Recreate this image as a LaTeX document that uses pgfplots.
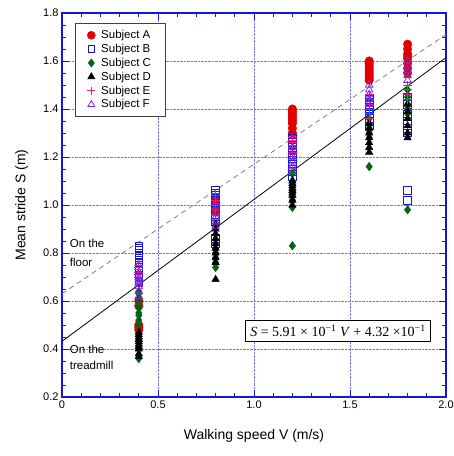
\documentclass[border=0pt]{standalone}
\usepackage{fontspec}
\setmainfont{Liberation Sans}
\newfontfamily\timesfont{Liberation Serif}
\usepackage{pgfplots}
\pgfplotsset{compat=1.18}
\definecolor{cA}{RGB}{225,0,0}
\definecolor{cB}{RGB}{20,20,220}
\definecolor{cC}{RGB}{0,100,20}
\definecolor{cE}{RGB}{250,20,140}
\definecolor{cF}{RGB}{130,40,220}
\begin{document}
\begin{tikzpicture}
\path[use as bounding box] (-62pt,-59pt) rectangle (392pt,397pt);
\begin{axis}[
  scale only axis, width=384pt, height=384pt,
  xmin=0, xmax=2, ymin=0.2, ymax=1.8,
  xtick={0,0.5,1,1.5,2}, xticklabels={0,0.5,1.0,1.5,2.0},
  ytick={0.2,0.4,...,1.8},
  yticklabel style={/pgf/number format/.cd, fixed, fixed zerofill, precision=1},
  /pgf/number format/assume math mode=true,
  minor x tick num=4, minor y tick num=3,
  tick align=inside, major tick length=7pt, minor tick length=4pt,
  every tick/.style={cB, line width=0.8pt},
  axis line style={cB, line width=1.2pt},
  grid=major, major grid style={blue!55, densely dotted, line width=0.9pt},
  tick label style={font=\fontsize{11}{13}\selectfont, black},
  xlabel={Walking speed V (m/s)}, ylabel={Mean stride S (m)},
  label style={font=\fontsize{14}{16}\selectfont},
  xlabel style={yshift=-14pt}, ylabel style={yshift=8pt},
  legend style={at={(0.034,0.974)}, anchor=north west, draw=black!75, line width=0.8pt,
    font=\fontsize{11.5}{13}\selectfont, inner xsep=12pt, inner ysep=5pt, row sep=0pt,
    /tikz/every odd column/.append style={column sep=4pt}},
  legend image post style={scale=0.9},
  legend cell align=left,
]
\addplot[only marks, mark=*, mark size=4.3pt, draw=cA, fill=cA] coordinates {
(0.4,0.48) (0.4,0.49) (0.4,0.50) (0.4,0.58) (0.4,0.60)
(0.8,0.97) (0.8,0.99) (0.8,1.01) (0.8,1.03)
(1.2,1.30) (1.2,1.32) (1.2,1.34) (1.2,1.35) (1.2,1.36) (1.2,1.37) (1.2,1.38) (1.2,1.39) (1.2,1.40)
(1.6,1.52) (1.6,1.53) (1.6,1.54) (1.6,1.55) (1.6,1.56) (1.6,1.57) (1.6,1.58) (1.6,1.59) (1.6,1.60)
(1.8,1.55) (1.8,1.57) (1.8,1.59) (1.8,1.61) (1.8,1.62) (1.8,1.63) (1.8,1.65) (1.8,1.67)
};
\addlegendentry{Subject A}
\addplot[only marks, mark=square, mark size=3.8pt, draw=cB, line width=0.8pt] coordinates {
(0.4,0.83) (0.4,0.82) (0.4,0.81) (0.4,0.80) (0.4,0.79) (0.4,0.78) (0.4,0.76) (0.4,0.74) (0.4,0.70) (0.4,0.68)
(0.8,1.06) (0.8,1.05) (0.8,1.04) (0.8,1.02) (0.8,0.98) (0.8,0.95) (0.8,0.93) (0.8,0.86) (0.8,0.84)
(1.2,1.12) (1.2,1.14) (1.2,1.16) (1.2,1.18) (1.2,1.20) (1.2,1.22) (1.2,1.24) (1.2,1.26) (1.2,1.28)
(1.6,1.33) (1.6,1.36) (1.6,1.38) (1.6,1.40) (1.6,1.42) (1.6,1.43) (1.6,1.44)
(1.8,1.02) (1.8,1.06) (1.8,1.30) (1.8,1.32) (1.8,1.35) (1.8,1.38) (1.8,1.42) (1.8,1.45)
};
\addlegendentry{Subject B}
\addplot[only marks, mark=diamond*, mark size=4.3pt, draw=cC, fill=cC] coordinates {
(0.4,0.36) (0.4,0.50) (0.4,0.52) (0.4,0.54) (0.4,0.55) (0.4,0.57) (0.4,0.59) (0.4,0.61) (0.4,0.63) (0.4,0.64)
(0.8,0.74) (0.8,0.76) (0.8,0.78) (0.8,0.80) (0.8,0.82)
(1.2,0.83) (1.2,0.99) (1.2,1.02) (1.2,1.06) (1.2,1.10) (1.2,1.13)
(1.6,1.16) (1.6,1.28) (1.6,1.30) (1.6,1.32) (1.6,1.34) (1.6,1.36)
(1.8,0.98) (1.8,1.38) (1.8,1.40) (1.8,1.42) (1.8,1.45) (1.8,1.48)
};
\addlegendentry{Subject C}
\addplot[only marks, mark=triangle*, mark size=4.3pt, draw=black, fill=black] coordinates {
(0.4,0.37) (0.4,0.38) (0.4,0.40) (0.4,0.41) (0.4,0.42) (0.4,0.43) (0.4,0.44) (0.4,0.45) (0.4,0.46) (0.4,0.47)
(0.8,0.69) (0.8,0.76) (0.8,0.78) (0.8,0.80) (0.8,0.82) (0.8,0.84) (0.8,0.86) (0.8,0.88) (0.8,0.90) (0.8,0.92)
(1.2,1.00) (1.2,1.02) (1.2,1.04) (1.2,1.05) (1.2,1.06) (1.2,1.07) (1.2,1.08) (1.2,1.09) (1.2,1.10)
(1.6,1.22) (1.6,1.24) (1.6,1.26) (1.6,1.28) (1.6,1.30) (1.6,1.32) (1.6,1.34)
(1.8,1.28) (1.8,1.30) (1.8,1.33) (1.8,1.36) (1.8,1.39) (1.8,1.42)
};
\addlegendentry{Subject D}
\addplot[only marks, mark=+, mark size=4.3pt, draw=cE, line width=1pt] coordinates {
(0.4,0.70) (0.4,0.71) (0.4,0.72) (0.4,0.73) (0.4,0.74) (0.4,0.75)
(0.8,0.96) (0.8,0.98) (0.8,1.00) (0.8,1.02) (0.8,1.04) (0.8,1.05)
(1.2,1.22) (1.2,1.24) (1.2,1.25) (1.2,1.26) (1.2,1.27) (1.2,1.28)
(1.6,1.36) (1.6,1.38) (1.6,1.40) (1.6,1.42) (1.6,1.44) (1.6,1.46)
(1.8,1.44) (1.8,1.46) (1.8,1.48) (1.8,1.50)
};
\addlegendentry{Subject E}
\addplot[only marks, mark=triangle, mark size=4.3pt, draw=cF, line width=0.8pt] coordinates {
(0.4,0.62) (0.4,0.64) (0.4,0.66) (0.4,0.67) (0.4,0.68) (0.4,0.69) (0.4,0.70) (0.4,0.72) (0.4,0.75)
(0.8,0.91) (0.8,0.93) (0.8,0.95) (0.8,0.97) (0.8,0.99) (0.8,1.01)
(1.2,1.14) (1.2,1.16) (1.2,1.18) (1.2,1.20) (1.2,1.22) (1.2,1.24)
(1.6,1.42) (1.6,1.44) (1.6,1.46) (1.6,1.48) (1.6,1.50)
(1.8,1.52) (1.8,1.54) (1.8,1.56) (1.8,1.58) (1.8,1.60)
};
\addlegendentry{Subject F}
\addplot[forget plot, black, line width=0.8pt] coordinates {(0,0.432) (2,1.614)};
\addplot[forget plot, gray, line width=0.8pt, dash pattern=on 5pt off 4pt] coordinates {(0,0.63) (2,1.71)};
\node[draw=black, line width=0.8pt, fill=white, inner sep=4.5pt, font=\timesfont\fontsize{14}{16}\selectfont]
  at (axis cs:1.4375,0.475) {\textit{S} = 5.91 × 10\textsuperscript{−1} \textit{V} + 4.32 ×10\textsuperscript{−1}};
\node[anchor=west, align=left, font=\fontsize{11.5}{19}\selectfont, inner sep=0pt] at (axis cs:0.04,0.80) {On the\\floor};
\node[anchor=west, align=left, font=\fontsize{11.5}{16}\selectfont, inner sep=0pt] at (axis cs:0.04,0.367) {On the\\treadmill};
\end{axis}
\end{tikzpicture}
\end{document}
